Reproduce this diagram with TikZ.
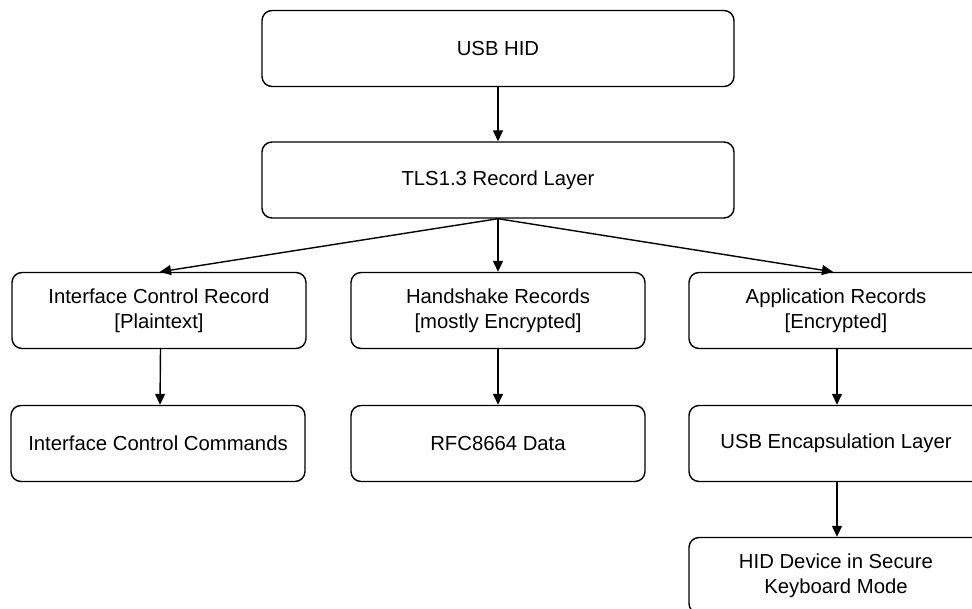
\documentclass[tikz,border=0pt]{standalone}
\usepackage{fontspec}
\setmainfont{Liberation Sans}
\usetikzlibrary{arrows.meta}
\begin{document}
\begin{tikzpicture}[x=1pt,y=-1pt,
  layerbox/.style={draw=black, line width=1.4pt, rounded corners=10pt, fill=white,
    minimum width=294pt, minimum height=76pt, inner sep=0pt, align=center,
    font=\fontsize{20.3}{24.5}\selectfont},
  widebox/.style={layerbox, minimum width=472pt},
  link/.style={line width=1.4pt, -{Triangle[length=11pt,width=10pt]}}]
  \useasboundingbox (0,0) rectangle (972,608);
  % top of the stack
  \node[widebox] (usb) at (498,48.5) {USB HID};
  \node[widebox] (tls) at (498,180) {TLS1.3 Record Layer};
  % record types
  \node[layerbox] (icr) at (159,310.5) {Interface Control Record\\{}[Plaintext]};
  \node[layerbox] (hs)  at (498,310.5) {Handshake Records\\{}[mostly Encrypted]};
  \node[layerbox] (ar)  at (836,310.5) {Application Records\\{}[Encrypted]};
  % payloads
  \node[layerbox] (icc) at (158,443.5) {Interface Control Commands};
  \node[layerbox] (rfc) at (498,443.5) {RFC8664 Data};
  \node[layerbox] (enc) at (836,443.5) {USB Encapsulation Layer};
  \node[layerbox] (hid) at (836,575.5) {HID Device in Secure\\Keyboard Mode};
  % connectors
  \draw[link] (usb.south) -- (tls.north);
  \draw[link] (tls.south) -- ([xshift=1pt]icr.north);
  \draw[link] (tls.south) -- (hs.north);
  \draw[link] (tls.south) -- ([xshift=-3pt]ar.north);
  \draw[link] ([xshift=1.5pt]icr.south) -- ([xshift=2pt]icc.north);
  \draw[link] (hs.south) -- (rfc.north);
  \draw[link] ([xshift=1pt]ar.south) -- ([xshift=1pt]enc.north);
  \draw[link] ([xshift=1pt]enc.south) -- ([xshift=1pt]hid.north);
\end{tikzpicture}
\end{document}
